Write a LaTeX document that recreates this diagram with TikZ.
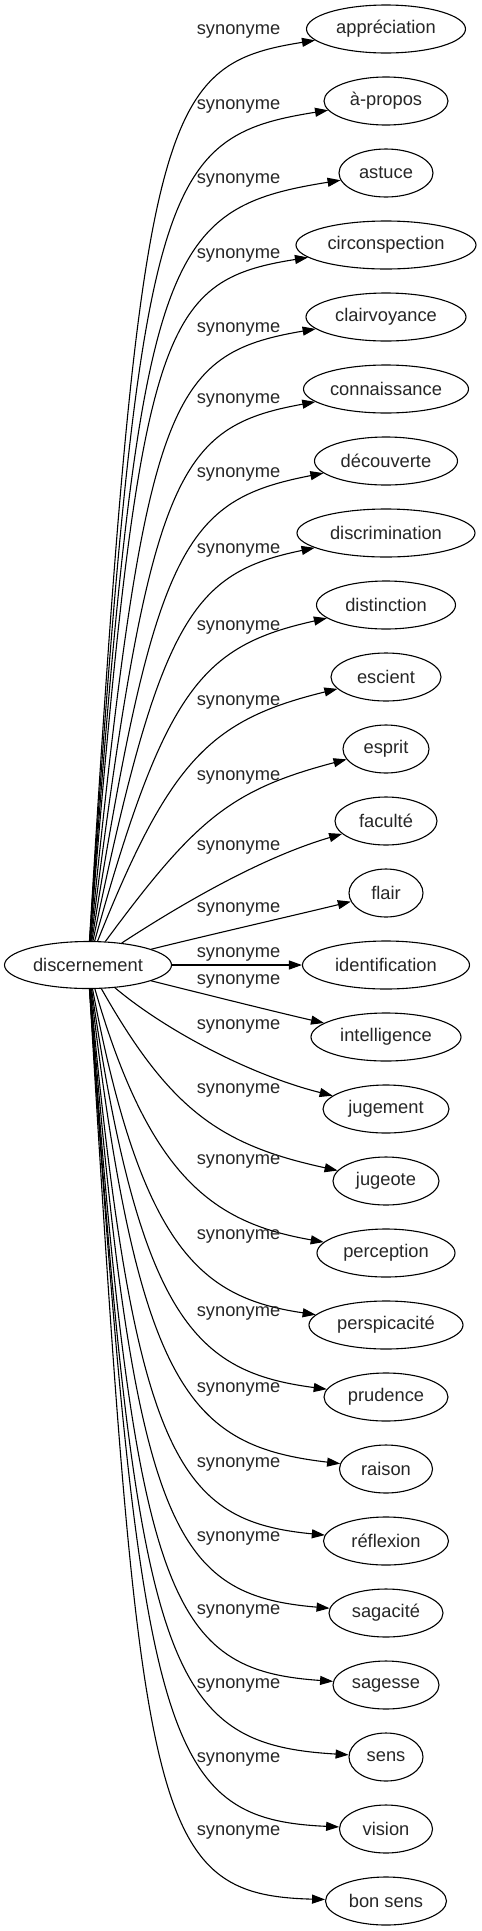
\documentclass[tikz,border=0pt]{standalone}
\usepackage{fontspec}
\setmainfont{Liberation Sans}
\usetikzlibrary{arrows.meta,shapes.geometric}
\begin{document}
\begin{tikzpicture}[x=1pt,y=-1pt,
  every node/.style={font=\fontsize{18.3}{22}\selectfont, text=black!85},
  term/.style={draw=black, ellipse, line width=1.1pt, inner sep=0pt, minimum height=48pt},
  rel/.style={draw=black, line width=1.1pt, -{Triangle[length=13pt,width=9pt]}},
  lbl/.style={inner sep=0pt}]
\useasboundingbox (0,0) rectangle (482,1931);
\node[term, minimum width=167pt, minimum height=47pt] (s) at (88,965) {discernement};
\foreach \i/\txt/\w/\ax/\ay/\bx/\by/\ly in {
 0/appréciation/159/140/110/160/65/31,
 1/à-propos/124/140/182/160/137/106,
 2/astuce/94/140/254/160/209/180,
 3/circonspection/180/140/326/160/281/255,
 4/clairvoyance/160/145/400/168/354/329,
 5/connaissance/165/150/472/177/427/400,
 6/découverte/143/155/544/185/500/474,
 7/discrimination/178/160/616/193/573/550,
 8/distinction/139/165/688/202/646/627,
 9/escient/110/170/760/210/720/702,
 10/esprit/86/195/820/230/790/777,
 11/faculté/102/180/905/260/858/847,
 12/flair/74/200/937/300/914/909,
 13/identification/167/200/965/280/965/954,
 14/intelligence/150/200/993/280/1013/981,
 15/jugement/126/165/1030/250/1075/1026,
 16/jugeote/106/170/1110/220/1145/1090,
 17/perception/138/150/1180/215/1223/1161,
 18/perspicacité/154/142/1251/202/1298/1236,
 19/prudence/124/140/1321/196/1372/1313,
 20/raison/93/138/1391/190/1446/1389,
 21/réflexion/125/134/1462/180/1521/1464,
 22/sagacité/114/134/1532/174/1595/1538,
 23/sagesse/106/134/1603/170/1670/1611,
 24/sens/74/136/1673/166/1744/1685,
 25/vision/93/140/1744/163/1819/1759,
 26/bon sens/121/140/1820/150/1895/1832}
{
  \node[term, minimum width=\w pt] (t\i) at (386,{29+72*\i}) {\txt};
  \node[lbl] (l\i) at (238.5,\ly) {synonyme};
  \draw[rel] (s) .. controls (\ax,\ay) and (\bx,\by) .. (t\i);
}
\end{tikzpicture}
\end{document}
